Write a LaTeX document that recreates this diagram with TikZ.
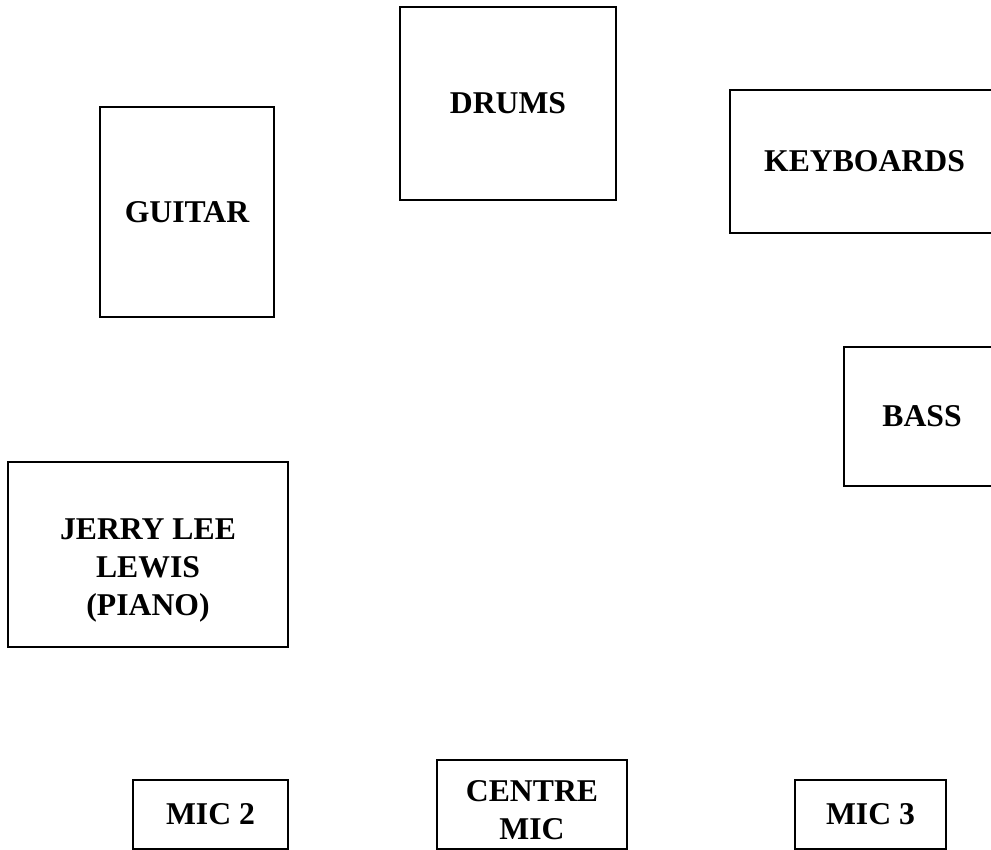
\documentclass[tikz,border=0pt]{standalone}
\usepackage{fontspec}
\setmainfont{Liberation Serif}
\usepackage{tikz}
\usetikzlibrary{positioning}

\begin{document}
\begin{tikzpicture}[
  x=1pt, y=-1pt,
  stagebox/.style={draw, line width=1.8pt, inner sep=0pt, align=center, font=\bfseries\fontsize{31.7}{38}\selectfont}
]
  \useasboundingbox (0,0) rectangle (991,850);
  % back line
  \node[stagebox, minimum width=216pt, minimum height=193pt] (drums) at (508, 103.5) {DRUMS};
  \node[stagebox, minimum width=174pt, minimum height=210pt] (guitar) at (187, 212) {GUITAR};
  \node[stagebox, minimum width=269pt, minimum height=143pt] (keys) at (864.5, 161.5) {KEYBOARDS};
  \node[stagebox, minimum width=156pt, minimum height=139pt] (bass) at (922, 416.5) {BASS};
  \node[stagebox, minimum width=280pt, minimum height=185pt, text height=128pt] (piano) at (148, 554.5) {JERRY LEE\\LEWIS\\(PIANO)};
  % front line
  \node[stagebox, minimum width=155pt, minimum height=69pt] (mictwo) at (210.5, 814.5) {MIC 2};
  \node[stagebox, minimum width=190pt, minimum height=89pt, text height=70pt] (centremic) at (532, 804.5) {CENTRE\\MIC};
  \node[stagebox, minimum width=151pt, minimum height=69pt] (micthree) at (870.5, 814.5) {MIC 3};
\end{tikzpicture}
\end{document}
